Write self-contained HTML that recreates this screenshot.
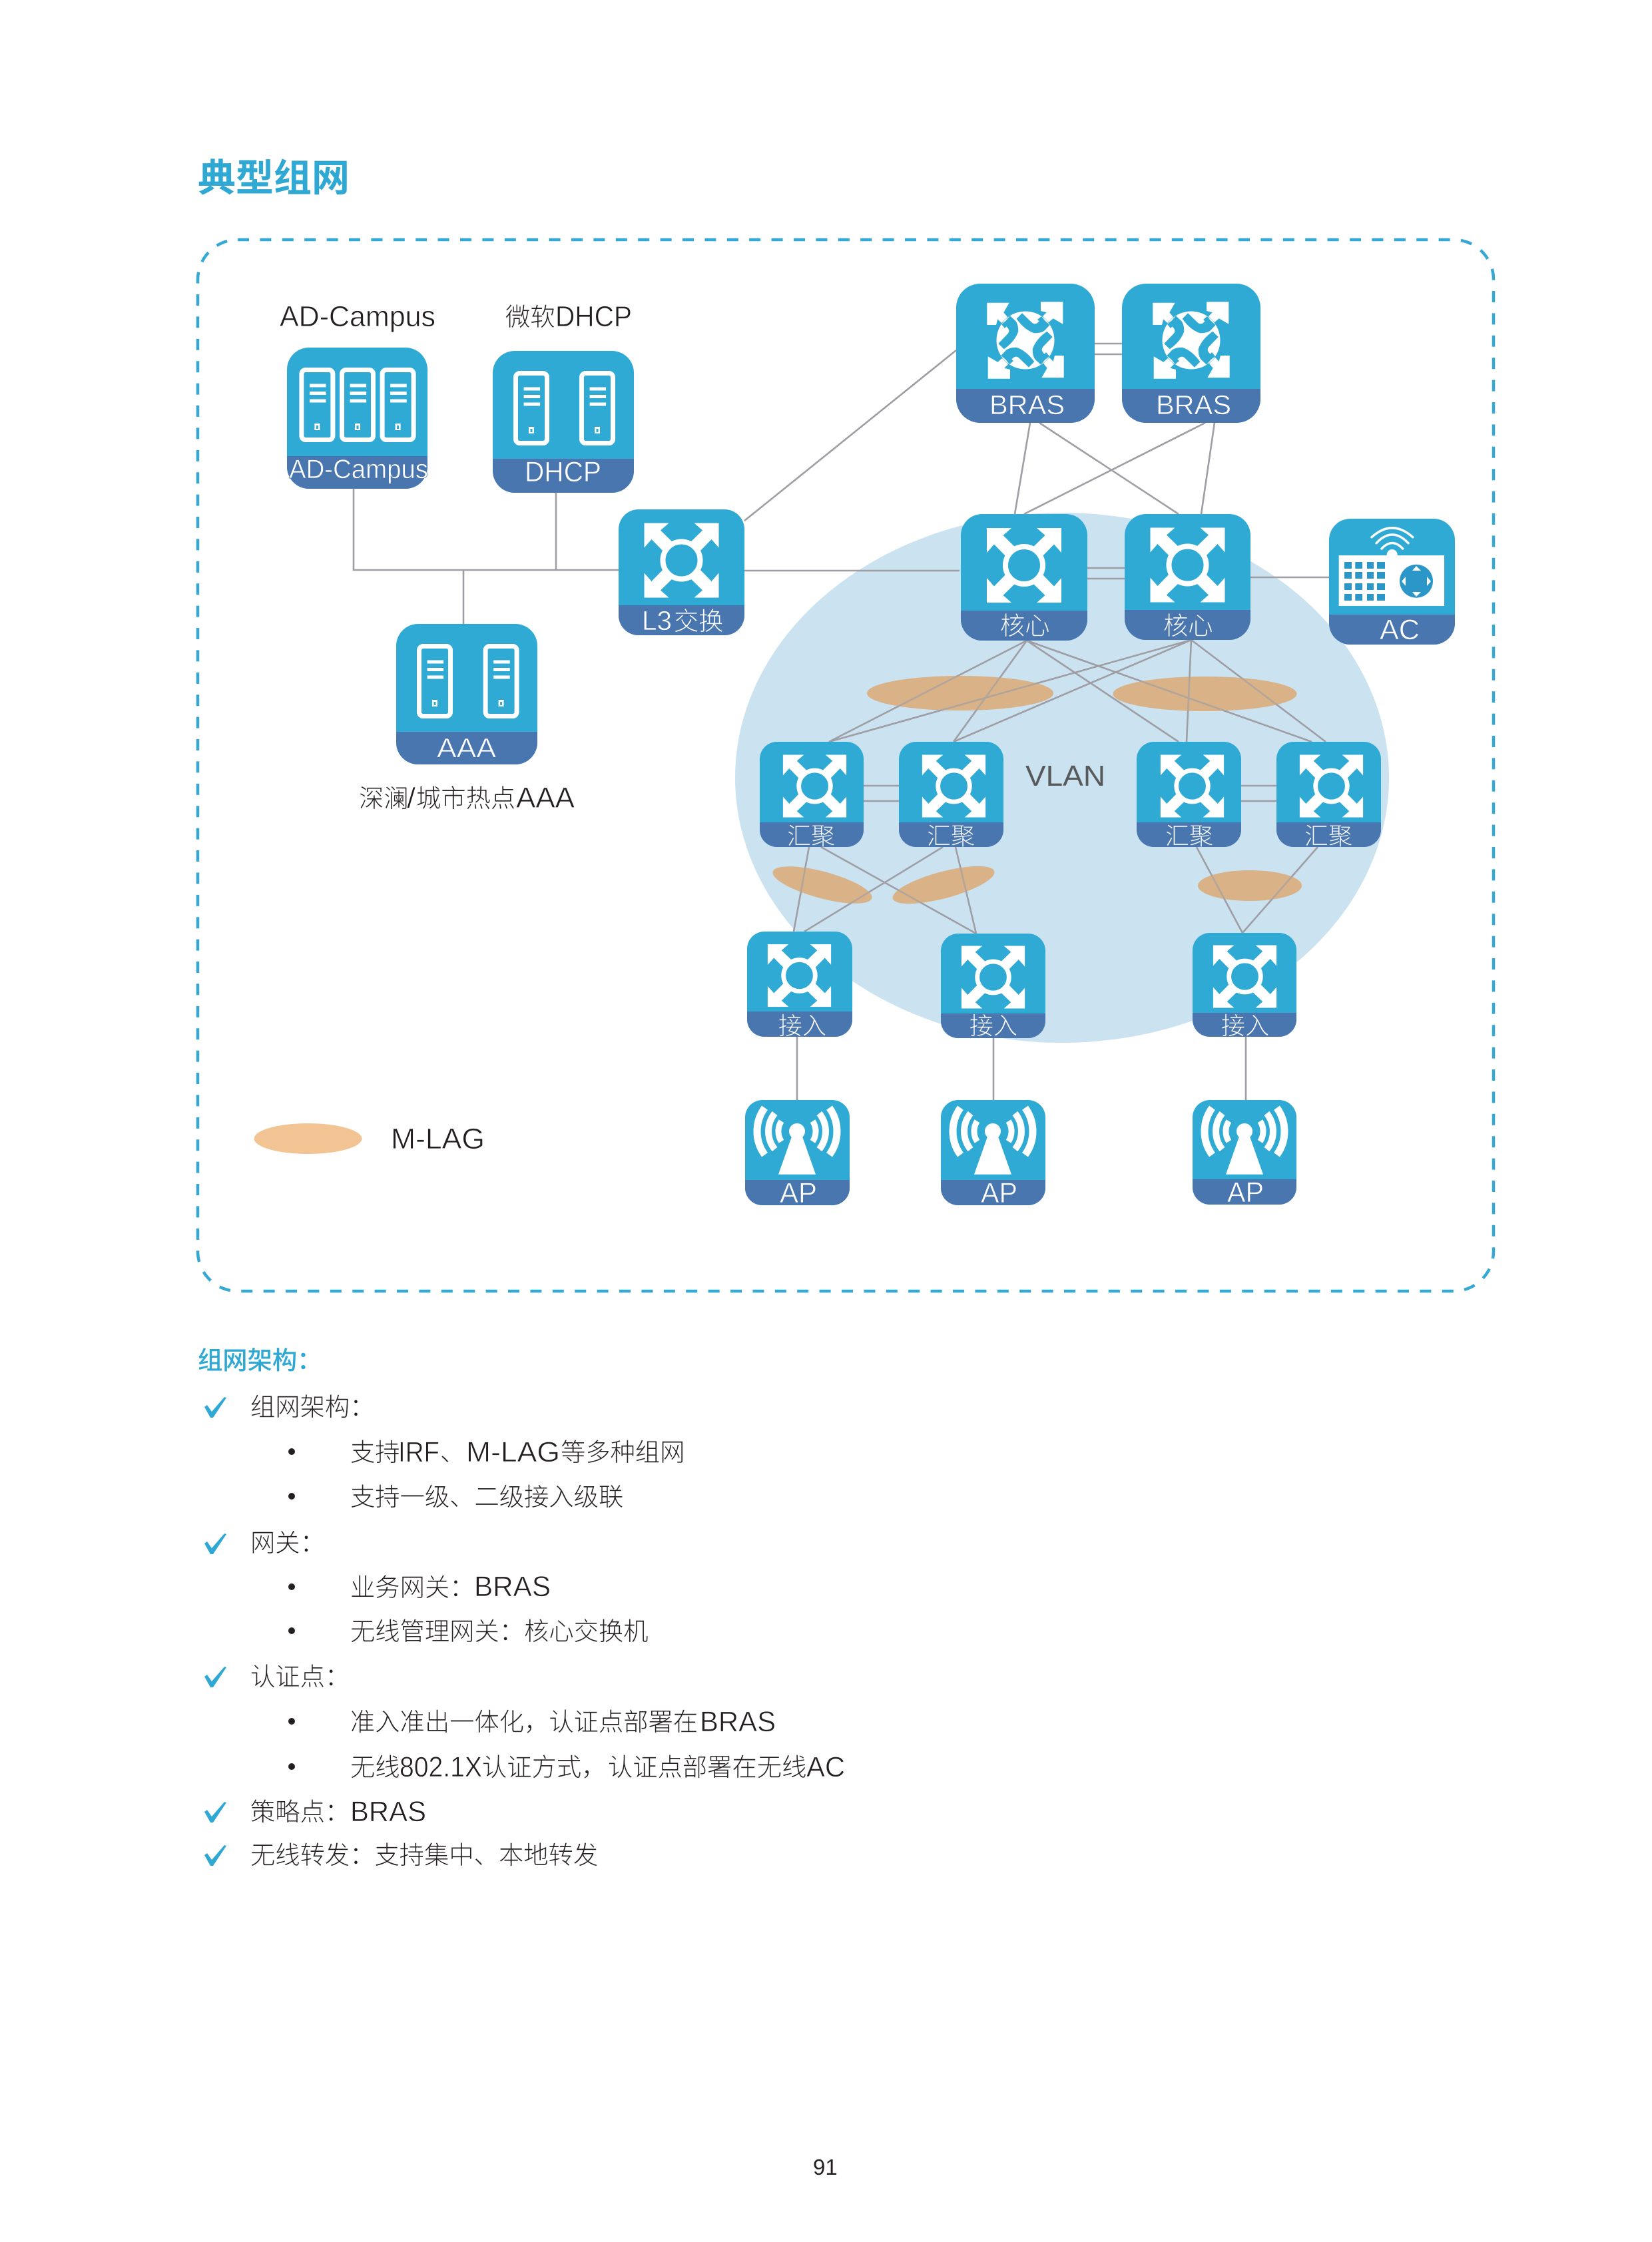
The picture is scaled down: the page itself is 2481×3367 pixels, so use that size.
<!DOCTYPE html>
<html><head><meta charset="utf-8"><style>
html,body{margin:0;padding:0;background:#fff}
svg{display:block}
.c{font-family:"Liberation Sans","Noto Sans CJK SC",sans-serif;font-weight:300;font-size:37.3px}
.l{font-family:"Liberation Sans",sans-serif;font-weight:400;font-size:43px}
.k{fill:#231f20}
.w{fill:#fff}
.c.k{stroke:#fff;stroke-width:.12}
.l.k{stroke:#fff;stroke-width:.7}
.c.w{stroke:#4a76b0;stroke-width:.15}
.l.w{stroke:#4a76b0;stroke-width:.7}
</style></head><body>
<svg xmlns="http://www.w3.org/2000/svg" width="2481" height="3367" viewBox="0 0 2481 3367">
<defs>
<g id="arm"><polygon points="-56,-56 -19,-56 -31.5,-45 -11,-25 -25,-11 -45,-31.5 -56,-19" fill="#fff"/></g>
<g id="sw">
<use href="#arm"/><use href="#arm" transform="rotate(90)"/><use href="#arm" transform="rotate(180)"/><use href="#arm" transform="rotate(270)"/>
<circle r="28" fill="#2eaad4" stroke="#fff" stroke-width="8"/>
</g>
<g id="brq">
<path d="M-13.3 -32.3L-5 -40.7L10 -26.3Q14 -23 18.3 -26.3L25 -33L36.7 -23L31 -17Q26.7 -10.7 13.3 -10.7Q-1.7 -15.7 -13.3 -32.3Z" fill="#2eaad4"/>
<polygon points="-26,-32 -22,-28 -31,-18 -36,-24" fill="#2eaad4"/>
<polygon points="-57.7,-56.3 -24.3,-56.3 -32.7,-41.7 -27,-35 -36,-26 -41.7,-31.7 -44,-23 -57.7,-23" fill="#fff"/>
</g>
<g id="br">
<circle r="43.5" fill="#fff"/>
<use href="#brq"/><use href="#brq" transform="rotate(90)"/><use href="#brq" transform="rotate(180)"/><use href="#brq" transform="rotate(270)"/>
</g>
<g id="srv">
<rect x="3.5" y="3.5" width="47" height="105" rx="6" fill="none" stroke="#fff" stroke-width="7"/>
<rect x="15.6" y="24.5" width="24.5" height="5" fill="#fff"/><rect x="15.6" y="36" width="24.5" height="5" fill="#fff"/><rect x="15.6" y="47.5" width="24.5" height="5" fill="#fff"/>
<rect x="23" y="84" width="8" height="10" fill="#fff"/><rect x="25.5" y="87" width="3" height="5" fill="#2eaad4"/>
</g>
<g id="ap" fill="#fff">
<circle cy="0" r="12"/>
<polygon points="-8,8 8,8 28,64.7 -28,64.7"/>
<g fill="none" stroke="#fff">
<path stroke-width="9" d="M23.5 -15.3A28 28 0 0 1 23.5 15.3"/><path stroke-width="10" d="M33.4 -27A43 43 0 0 1 33.4 27"/><path stroke-width="11" d="M48.5 -35.3A60 60 0 0 1 48.5 35.3"/>
<path stroke-width="9" d="M-23.5 -15.3A28 28 0 0 0 -23.5 15.3"/><path stroke-width="10" d="M-33.4 -27A43 43 0 0 0 -33.4 27"/><path stroke-width="11" d="M-48.5 -35.3A60 60 0 0 0 -48.5 35.3"/>
</g>
</g>
<polygon id="chk" points="307,1 311,-2 318,8 337,-14 340,-13 320,17 316,17" fill="#2fa9d3"/>
</defs>

<!-- title -->
<text x="297" y="287" font-family="'Noto Sans CJK SC',sans-serif" font-weight="700" font-size="57" fill="#2fa9d3">典型组网</text>

<!-- dashed frame -->
<rect x="297" y="360" width="1946" height="1579" rx="60" fill="none" stroke="#35a9d3" stroke-width="4.5" stroke-dasharray="17 16.4"/>

<!-- areas -->
<ellipse cx="1595" cy="1168" rx="491" ry="398" fill="#cbe2f0"/>
<ellipse cx="1442" cy="1041" rx="140" ry="26" fill="#dab287"/>
<ellipse cx="1809.5" cy="1042" rx="138" ry="26" fill="#dab287"/>
<ellipse cx="1235" cy="1329" rx="77" ry="20" transform="rotate(15 1235 1329)" fill="#dab287"/>
<ellipse cx="1417" cy="1329" rx="79" ry="20" transform="rotate(-15 1417 1329)" fill="#dab287"/>
<ellipse cx="1877" cy="1330" rx="78" ry="23" fill="#dab287"/>
<ellipse cx="462.5" cy="1710" rx="81" ry="23" fill="#f2c493"/>

<!-- links -->
<g stroke="#9e9ea4" stroke-width="2.6" fill="none">
<path d="M531 734V856H929"/><path d="M835 740V856"/><path d="M696 856V937"/>
<path d="M1118 857H1441"/><path d="M1118 782L1436 526"/>
<path d="M1644 516H1685M1644 532H1685"/>
<path d="M1547 635L1524 772M1561 635L1770 772M1810 635L1538 772M1824 635L1804 772"/>
<path d="M1633 853H1689M1633 869H1689M1878 867H1996"/>
<path d="M1542 962L1245 1114M1542 962L1432 1114M1542 962L1770 1114M1542 962L1970 1114"/>
<path d="M1789 961L1245 1114M1789 961L1432 1114M1789 961L1782 1114M1789 961L1991 1114"/>
<path d="M1297 1180H1350M1297 1203H1350M1864 1180H1917M1864 1203H1917"/>
<path d="M1215 1272L1192 1399M1233 1272L1466 1402M1416 1272L1208 1399M1435 1272L1466 1402"/>
<path d="M1797 1272L1866 1401M1979 1272L1866 1401"/>
<path d="M1197 1557V1652M1492 1559V1652M1871 1557V1652"/>
</g>
<g fill="#dab287" opacity=".35">
<ellipse cx="1442" cy="1041" rx="140" ry="26"/>
<ellipse cx="1809.5" cy="1042" rx="138" ry="26"/>
<ellipse cx="1235" cy="1329" rx="77" ry="20" transform="rotate(15 1235 1329)"/>
<ellipse cx="1417" cy="1329" rx="79" ry="20" transform="rotate(-15 1417 1329)"/>
<ellipse cx="1877" cy="1330" rx="78" ry="23"/>
</g>

<!-- node bodies -->
<g fill="#2eaad4">
<rect x="431" y="522" width="211" height="212" rx="33"/>
<rect x="740" y="527" width="212" height="213" rx="33"/>
<rect x="929" y="765" width="189" height="189" rx="30"/>
<rect x="595" y="937" width="212" height="211" rx="33"/>
<rect x="1436" y="426" width="208" height="209" rx="36"/>
<rect x="1685" y="426" width="208" height="209" rx="36"/>
<rect x="1443" y="772" width="190" height="190" rx="32"/>
<rect x="1689" y="772" width="189" height="189" rx="32"/>
<rect x="1996" y="779" width="189" height="189" rx="32"/>
<rect x="1141" y="1114" width="156" height="158" rx="26"/>
<rect x="1350" y="1114" width="157" height="158" rx="26"/>
<rect x="1707" y="1114" width="157" height="158" rx="26"/>
<rect x="1917" y="1114" width="157" height="158" rx="26"/>
<rect x="1122" y="1399" width="158" height="158" rx="26"/>
<rect x="1413" y="1402" width="157" height="157" rx="26"/>
<rect x="1791" y="1401" width="156" height="156" rx="26"/>
<rect x="1119" y="1652" width="157" height="158" rx="26"/>
<rect x="1413" y="1652" width="157" height="158" rx="26"/>
<rect x="1791" y="1652" width="156" height="157" rx="26"/>
</g>
<g fill="#4a76b0">
<path d="M431 685H642V701A33 33 0 0 1 609 734H464A33 33 0 0 1 431 701Z"/>
<path d="M740 689H952V707A33 33 0 0 1 919 740H773A33 33 0 0 1 740 707Z"/>
<path d="M929 909H1118V924A30 30 0 0 1 1088 954H959A30 30 0 0 1 929 924Z"/>
<path d="M595 1099H807V1115A33 33 0 0 1 774 1148H628A33 33 0 0 1 595 1115Z"/>
<path d="M1436 584H1644V599A36 36 0 0 1 1608 635H1472A36 36 0 0 1 1436 599Z"/>
<path d="M1685 584H1893V599A36 36 0 0 1 1857 635H1721A36 36 0 0 1 1685 599Z"/>
<path d="M1443 917H1633V930A32 32 0 0 1 1601 962H1475A32 32 0 0 1 1443 930Z"/>
<path d="M1689 916H1878V929A32 32 0 0 1 1846 961H1721A32 32 0 0 1 1689 929Z"/>
<path d="M1996 923H2185V936A32 32 0 0 1 2153 968H2028A32 32 0 0 1 1996 936Z"/>
<path d="M1141 1235H1297V1246A26 26 0 0 1 1271 1272H1167A26 26 0 0 1 1141 1246Z"/>
<path d="M1350 1235H1507V1246A26 26 0 0 1 1481 1272H1376A26 26 0 0 1 1350 1246Z"/>
<path d="M1707 1235H1864V1246A26 26 0 0 1 1838 1272H1733A26 26 0 0 1 1707 1246Z"/>
<path d="M1917 1235H2074V1246A26 26 0 0 1 2048 1272H1943A26 26 0 0 1 1917 1246Z"/>
<path d="M1122 1519H1280V1531A26 26 0 0 1 1254 1557H1148A26 26 0 0 1 1122 1531Z"/>
<path d="M1413 1522H1570V1533A26 26 0 0 1 1544 1559H1439A26 26 0 0 1 1413 1533Z"/>
<path d="M1791 1521H1947V1531A26 26 0 0 1 1921 1557H1817A26 26 0 0 1 1791 1531Z"/>
<path d="M1119 1772H1276V1784A26 26 0 0 1 1250 1810H1145A26 26 0 0 1 1119 1784Z"/>
<path d="M1413 1772H1570V1784A26 26 0 0 1 1544 1810H1439A26 26 0 0 1 1413 1784Z"/>
<path d="M1791 1771H1947V1783A26 26 0 0 1 1921 1809H1817A26 26 0 0 1 1791 1783Z"/>
</g>

<!-- icons -->
<use href="#srv" x="449.4" y="552"/><use href="#srv" x="510" y="552"/><use href="#srv" x="570.6" y="552"/>
<use href="#srv" x="771" y="557"/><use href="#srv" x="870" y="557"/>
<use href="#srv" x="626" y="967"/><use href="#srv" x="725.6" y="967"/>
<use href="#sw" transform="translate(1023.5 841.5)"/>
<use href="#sw" transform="translate(1538 849)"/>
<use href="#sw" transform="translate(1783.5 848.5)"/>
<use href="#sw" transform="translate(1223.5 1180.5) scale(.85 .84)"/>
<use href="#sw" transform="translate(1432.5 1180.5) scale(.85 .84)"/>
<use href="#sw" transform="translate(1790.5 1180.5) scale(.85 .84)"/>
<use href="#sw" transform="translate(1999.5 1180.5) scale(.85 .84)"/>
<use href="#sw" transform="translate(1200.5 1465) scale(.85 .84)"/>
<use href="#sw" transform="translate(1491.5 1467.5) scale(.85 .84)"/>
<use href="#sw" transform="translate(1869.5 1466.5) scale(.85 .84)"/>
<use href="#br" transform="translate(1540 511)"/>
<use href="#br" transform="translate(1789 511)"/>
<use href="#ap" transform="translate(1197 1699)"/>
<use href="#ap" transform="translate(1491 1699)"/>
<use href="#ap" transform="translate(1869 1699)"/>

<!-- AC icon -->
<rect x="2010.7" y="834" width="158.3" height="76" fill="#fff"/>
<circle cx="2090.7" cy="833" r="8" fill="#fff"/>
<g fill="none" stroke="#fff" stroke-width="3.5" stroke-linecap="round">
<path d="M2060 806.7Q2090.7 779 2121.7 806.7"/><path d="M2067 815.7Q2090.7 790 2115 815.7"/><path d="M2075 824Q2090.7 807 2106.7 824"/>
</g>
<g fill="#2b96c8">
<rect x="2019" y="844" width="11" height="10"/><rect x="2035.3" y="844" width="10.7" height="10"/><rect x="2053" y="844" width="10" height="10"/><rect x="2068" y="844" width="12" height="10"/>
<rect x="2019" y="859" width="11" height="10"/><rect x="2035.3" y="859" width="10.7" height="10"/><rect x="2053" y="859" width="10" height="10"/><rect x="2068" y="859" width="12" height="10"/>
<rect x="2019" y="876" width="11" height="10"/><rect x="2035.3" y="876" width="10.7" height="10"/><rect x="2053" y="876" width="10" height="10"/><rect x="2068" y="876" width="12" height="10"/>
<rect x="2019" y="892" width="11" height="10"/><rect x="2035.3" y="892" width="10.7" height="10"/><rect x="2053" y="892" width="10" height="10"/><rect x="2068" y="892" width="12" height="10"/>
<circle cx="2127" cy="872.7" r="25"/>
</g>
<g fill="#fff">
<polygon points="2127,850 2121,857 2134,857"/><polygon points="2127,896 2121,889 2134,889"/>
<polygon points="2105,873 2111,866 2111,880"/><polygon points="2149,873 2143,866 2143,880"/>
</g>

<!-- diagram labels -->
<text class="l k" x="420" y="490" style="font-size:44px" textLength="234" lengthAdjust="spacingAndGlyphs">AD-Campus</text>
<text class="c k" x="759" y="489">微软</text>
<text class="l k" x="834" y="490" style="font-size:44px" textLength="115" lengthAdjust="spacingAndGlyphs">DHCP</text>
<text class="l w" x="434" y="718" style="font-size:40px" textLength="209" lengthAdjust="spacingAndGlyphs">AD-Campus</text>
<text class="l w" x="788" y="723" textLength="115" lengthAdjust="spacingAndGlyphs">DHCP</text>
<text class="l w" x="964" y="946" style="font-size:41px" textLength="45" lengthAdjust="spacingAndGlyphs">L3</text>
<text class="c w" x="1012" y="946">交换</text>
<text class="l w" x="656" y="1137" style="font-size:41px" textLength="89" lengthAdjust="spacingAndGlyphs">AAA</text>
<text class="c k" x="539" y="1212">深澜</text>
<text class="l k" x="611" y="1213" textLength="13" lengthAdjust="spacingAndGlyphs">/</text>
<text class="c k" x="625" y="1212">城市热点</text>
<text class="l k" x="775" y="1213" style="font-size:44px" textLength="88" lengthAdjust="spacingAndGlyphs">AAA</text>
<text class="l w" x="1486" y="622" style="font-size:41px" textLength="113" lengthAdjust="spacingAndGlyphs">BRAS</text>
<text class="l w" x="1736" y="622" style="font-size:41px" textLength="113" lengthAdjust="spacingAndGlyphs">BRAS</text>
<text class="c w" x="1502" y="953">核心</text>
<text class="c w" x="1747" y="953">核心</text>
<text class="l w" x="2072" y="960" textLength="60" lengthAdjust="spacingAndGlyphs">AC</text>
<text class="c w" x="1182" y="1268" style="font-size:36px">汇聚</text>
<text class="c w" x="1392" y="1268" style="font-size:36px">汇聚</text>
<text class="c w" x="1750" y="1268" style="font-size:36px">汇聚</text>
<text class="c w" x="1959" y="1268" style="font-size:36px">汇聚</text>
<text class="c w" x="1169" y="1553" style="font-size:36px">接入</text>
<text class="c w" x="1456" y="1553" style="font-size:36px">接入</text>
<text class="c w" x="1834" y="1553" style="font-size:36px">接入</text>
<text class="l w" x="1171" y="1806" textLength="56" lengthAdjust="spacingAndGlyphs">AP</text>
<text class="l w" x="1473" y="1806" textLength="55" lengthAdjust="spacingAndGlyphs">AP</text>
<text class="l w" x="1843" y="1805" textLength="55" lengthAdjust="spacingAndGlyphs">AP</text>
<text x="1540" y="1180" font-family="'Liberation Sans',sans-serif" font-size="44" fill="#58595b" textLength="120" lengthAdjust="spacingAndGlyphs">VLAN</text>
<text class="l k" x="587" y="1725" style="font-size:44px" textLength="141" lengthAdjust="spacingAndGlyphs">M-LAG</text>

<!-- body text -->
<text x="297" y="2056" font-family="'Noto Sans CJK SC',sans-serif" font-weight="500" font-size="37.3" fill="#2fa9d3">组网架构&#xFF1A;</text>

<use href="#chk" y="2112"/><use href="#chk" y="2317"/><use href="#chk" y="2517"/><use href="#chk" y="2720"/><use href="#chk" y="2785"/>
<g fill="#231f20">
<circle cx="438" cy="2180" r="5"/><circle cx="438" cy="2247" r="5"/><circle cx="438" cy="2383" r="5"/><circle cx="438" cy="2449" r="5"/><circle cx="438" cy="2585" r="5"/><circle cx="438" cy="2653" r="5"/>
</g>

<text class="c k" x="376" y="2126">组网架构&#xFF1A;</text>
<text class="c k" x="526" y="2194">支持</text>
<text class="l k" x="598" y="2195" textLength="62" lengthAdjust="spacingAndGlyphs">IRF</text>
<text class="c k" x="661" y="2194">、</text>
<text class="l k" x="700" y="2195" textLength="141" lengthAdjust="spacingAndGlyphs">M-LAG</text>
<text class="c k" x="842" y="2194">等多种组网</text>
<text class="c k" x="526" y="2261">支持一级、二级接入级联</text>
<text class="c k" x="376" y="2330">网关&#xFF1A;</text>
<text class="c k" x="526" y="2397">业务网关&#xFF1A;</text>
<text class="l k" x="712" y="2397" textLength="115" lengthAdjust="spacingAndGlyphs">BRAS</text>
<text class="c k" x="526" y="2463">无线管理网关&#xFF1A;核心交换机</text>
<text class="c k" x="376" y="2531">认证点&#xFF1A;</text>
<text class="c k" x="526" y="2599">准入准出一体化&#xFF0C;认证点部署在</text>
<text class="l k" x="1051" y="2600" textLength="114" lengthAdjust="spacingAndGlyphs">BRAS</text>
<text class="c k" x="526" y="2667">无线</text>
<text class="l k" x="600" y="2668" textLength="124" lengthAdjust="spacingAndGlyphs">802.1X</text>
<text class="c k" x="724" y="2667">认证方式&#xFF0C;</text>
<text class="c k" x="913" y="2667">认证点部署在无线</text>
<text class="l k" x="1211" y="2668" textLength="58" lengthAdjust="spacingAndGlyphs">AC</text>
<text class="c k" x="376" y="2734">策略点&#xFF1A;</text>
<text class="l k" x="526" y="2735" textLength="114" lengthAdjust="spacingAndGlyphs">BRAS</text>
<text class="c k" x="376" y="2799">无线转发&#xFF1A;支持集中、本地转发</text>

<text x="1221" y="3266" font-family="'Liberation Sans',sans-serif" font-size="33" fill="#231f20">91</text>
</svg>
</body></html>
